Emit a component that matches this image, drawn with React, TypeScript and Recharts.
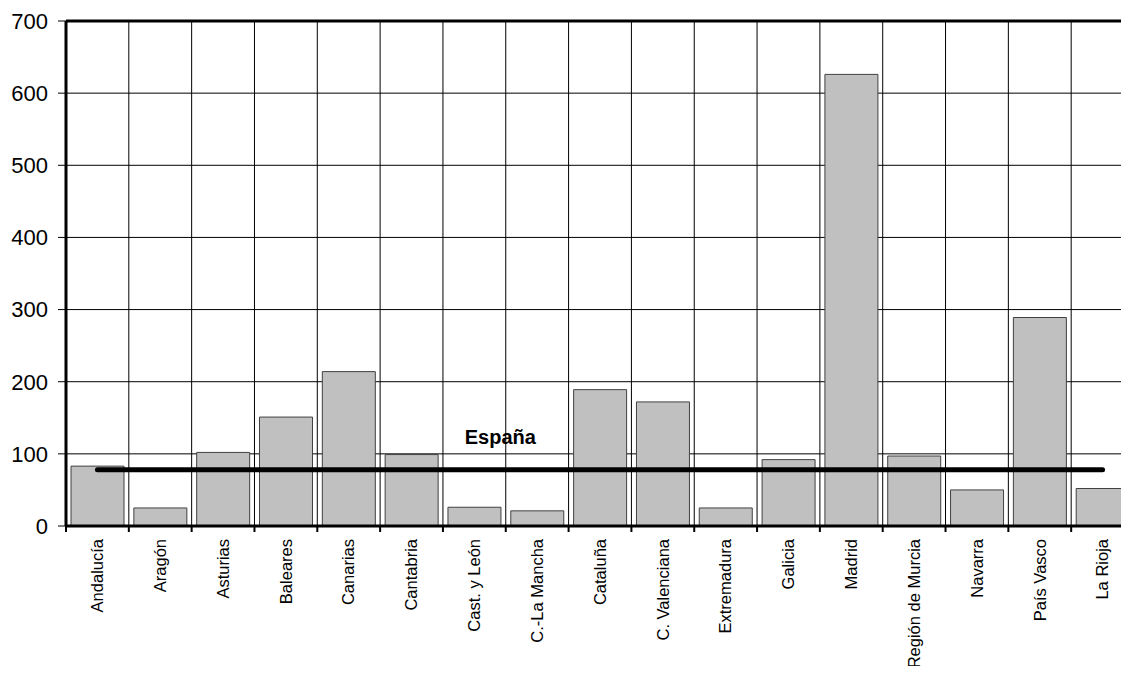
import {
  ComposedChart,
  Bar,
  Line,
  XAxis,
  YAxis,
  CartesianGrid,
  ReferenceLine,
} from "recharts";

const regions = [
  "Andalucía",
  "Aragón",
  "Asturias",
  "Baleares",
  "Canarias",
  "Cantabria",
  "Cast. y León",
  "C.-La Mancha",
  "Cataluña",
  "C. Valenciana",
  "Extremadura",
  "Galicia",
  "Madrid",
  "Región de Murcia",
  "Navarra",
  "País Vasco",
  "La Rioja",
];

const values = [83, 25, 102, 151, 214, 99, 26, 21, 189, 172, 25, 92, 626, 97, 50, 289, 52];

const espana = 78;
const yTicks = [0, 100, 200, 300, 400, 500, 600, 700];

const data = regions.map((name, i) => ({ name, value: values[i], espana }));

const FONT = '"Liberation Sans", Arial, sans-serif';

function RegionTick(props: any) {
  const { x, y, payload } = props;
  const half = payload && payload.offset ? payload.offset : 31.4;
  return (
    <g>
      <line x1={x - half} y1={y} x2={x - half} y2={y + 6} stroke="#000" strokeWidth={2} />
      <text
        x={x}
        y={y + 13}
        dy="0.35em"
        transform={`rotate(-90, ${x}, ${y + 13})`}
        textAnchor="end"
        fontSize={16.5}
        fontFamily={FONT}
        fill="#000"
      >
        {payload.value}
      </text>
    </g>
  );
}

function EspanaLabel(props: any) {
  const { x, y, index } = props;
  if (index !== 6) return null;
  return (
    <text
      x={x + 26}
      y={y - 26}
      textAnchor="middle"
      fontSize={20}
      fontWeight="bold"
      fontFamily={FONT}
      fill="#000"
    >
      España
    </text>
  );
}

export default function App() {
  return (
    <div style={{ margin: -8, width: 1129, height: 674, overflow: "hidden", background: "#fff" }}>
      <ComposedChart
        width={1140}
        height={674}
        data={data}
        margin={{ top: 21, right: 6, left: 1, bottom: 0 }}
        barCategoryGap="8%"
      >
        <CartesianGrid
          stroke="#000"
          strokeWidth={1}
          verticalCoordinatesGenerator={({ offset }: any) =>
            regions.map((_, i) => offset.left + (i * offset.width) / regions.length)
          }
        />
        <XAxis
          dataKey="name"
          interval={0}
          height={148}
          axisLine={{ stroke: "#000", strokeWidth: 3 }}
          tickLine={false}
          tickSize={0}
          tickMargin={0}
          tick={<RegionTick />}
        />
        <YAxis
          width={65}
          domain={[0, 700]}
          ticks={yTicks}
          interval={0}
          axisLine={{ stroke: "#000", strokeWidth: 3 }}
          tickLine={{ stroke: "#000", strokeWidth: 1 }}
          tickSize={8}
          tickMargin={10}
          tick={{ fontSize: 22, fill: "#000", fontFamily: FONT }}
        />
        <ReferenceLine y={700} stroke="#000" strokeWidth={3} />
        <Bar dataKey="value" fill="#c0c0c0" stroke="#404040" strokeWidth={1} isAnimationActive={false} />
        <Line
          dataKey="espana"
          stroke="#000"
          strokeWidth={5}
          strokeLinecap="round"
          dot={false}
          activeDot={false}
          label={<EspanaLabel />}
          isAnimationActive={false}
        />
      </ComposedChart>
    </div>
  );
}
